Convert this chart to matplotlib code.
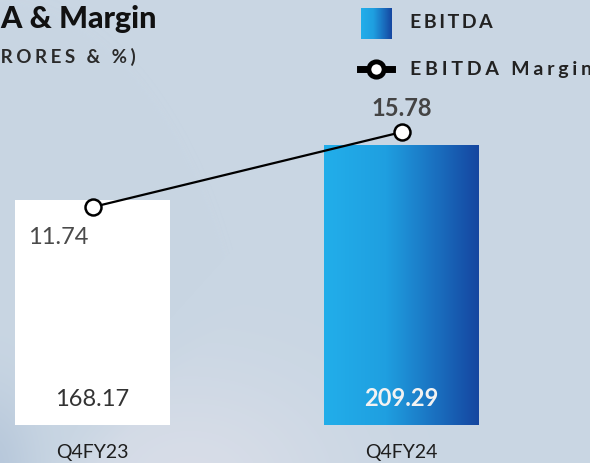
import numpy as np
import matplotlib.pyplot as plt
from matplotlib.lines import Line2D
from matplotlib.colors import LinearSegmentedColormap

plt.rcParams['font.family'] = ['Lato', 'DejaVu Sans']

categories = ["Q4FY23", "Q4FY24"]
ebitda = [168.17, 209.29]
margin = [11.74, 15.78]

W, H = 590, 463
fig = plt.figure(figsize=(W / 100, H / 100), dpi=100)


def fx(px):
    return px / W


def fy(py):
    return 1 - py / H


def spaced(s, gap="\u2009\u200a"):
    return gap.join(s)


# slide background with a soft haze in the lower left
bg = fig.add_axes([0, 0, 1, 1], zorder=0)
yy, xx = np.mgrid[0:H, 0:W]
base = np.array([201, 214, 227]) / 255
img = np.ones((H, W, 3)) * base
haze = np.exp(-(((xx - 190) / 150) ** 2 + ((yy - 480) / 110) ** 2))
haze *= np.clip((xx + (yy - 463) * 0.9 - 40) / 60, 0, 1)
img = img * (1 - 0.7 * haze[..., None]) + np.array([222, 224, 234]) / 255 * 0.7 * haze[..., None]
dark = np.exp(-(((xx + 10) / 45) ** 2 + ((yy - 470) / 80) ** 2))
img = img * (1 - 0.5 * dark[..., None]) + np.array([165, 185, 210]) / 255 * 0.5 * dark[..., None]
bg.imshow(img, extent=[0, W, H, 0], aspect='auto')
bg.axis('off')

grad_cmap = LinearSegmentedColormap.from_list(
    "ebitda", [(0, '#22aeea'), (0.4, '#1f9fe0'), (0.72, '#1a70c0'), (1, '#1546a0')])
grad = np.linspace(0, 1, 256).reshape(1, -1)

# main axes: baseline at y=425 px
ax = fig.add_axes([0, fy(425), 1, 425 / H], zorder=1)
ax.patch.set_alpha(0)
x = np.arange(len(categories))
width = 155 / 309
bars = ax.bar(x, ebitda, width=width, color=['white', 'none'], zorder=2)
b = bars[1]
im = ax.imshow(grad, extent=[b.get_x(), b.get_x() + b.get_width(), 0, b.get_height()],
               aspect='auto', cmap=grad_cmap, zorder=2)
im.set_clip_path(b)
ax.set_xlim(-92.5 / 309, (590 - 92.5) / 309)
ax.set_ylim(0, 425 / 1.338)
ax.set_xticks(x, categories)
ax.tick_params(axis='x', length=0, pad=14, labelsize=14, labelcolor='#1e1e1e')
ax.set_yticks([])
for s in ax.spines.values():
    s.set_visible(False)

bar_colors = ['#333333', '#f2f2f2']
bar_weights = ['normal', 'bold']
for i, v in enumerate(ebitda):
    ax.annotate(f"{v:.2f}", (x[i], 0), xytext=(0, 26), textcoords='offset pixels',
                ha='center', va='center', fontsize=17, color=bar_colors[i],
                fontweight=bar_weights[i], zorder=3)

ax2 = ax.twinx()
ax2.set_ylim(0, 425 / 18.56)
ax2.plot(x, margin, color='black', lw=1.6, marker='o', ms=11.5,
         mfc='white', mec='black', mew=1.8, zorder=3)
ax2.set_yticks([])
for s in ax2.spines.values():
    s.set_visible(False)
ax2.annotate(f"{margin[0]:.2f}", (x[0], margin[0]), xytext=(-34, -30), textcoords='offset pixels',
             ha='center', va='center', fontsize=17, color='#4a4a4a')
ax2.annotate(f"{margin[1]:.2f}", (x[1], margin[1]), xytext=(0, 24), textcoords='offset pixels',
             ha='center', va='center', fontsize=17, color='#444444', fontweight='bold')

# title (slide crop cuts its left side)
fig.text(fx(156), fy(19), "EBITDA & Margin", ha='right', va='center',
         fontsize=22, fontweight='black', color='#111111')
fig.text(fx(136), fy(57), spaced("(IN CRORES & %)"), ha='right', va='center',
         fontsize=13.5, fontweight='bold', color='#2a2a2a')

# legend
lax = fig.add_axes([fx(361), fy(39), 31 / W, 31 / H], zorder=2)
lax.imshow(grad, aspect='auto', cmap=grad_cmap)
lax.axis('off')
fig.text(fx(410), fy(22), spaced("EBITDA", "\u2009"), ha='left', va='center',
         fontsize=14, fontweight='bold', color='#222222')
fig.add_artist(Line2D([fx(360), fx(392)], [fy(69), fy(69)], color='black', lw=5,
                      transform=fig.transFigure))
fig.add_artist(Line2D([fx(376)], [fy(69)], marker='o', ms=11, mfc='white', mec='black',
                      mew=3.5, transform=fig.transFigure))
fig.text(fx(410), fy(70), spaced("EBITDA Margin"), ha='left', va='center',
         fontsize=14, fontweight='bold', color='#222222')

fig.savefig("out.png", dpi=100)
